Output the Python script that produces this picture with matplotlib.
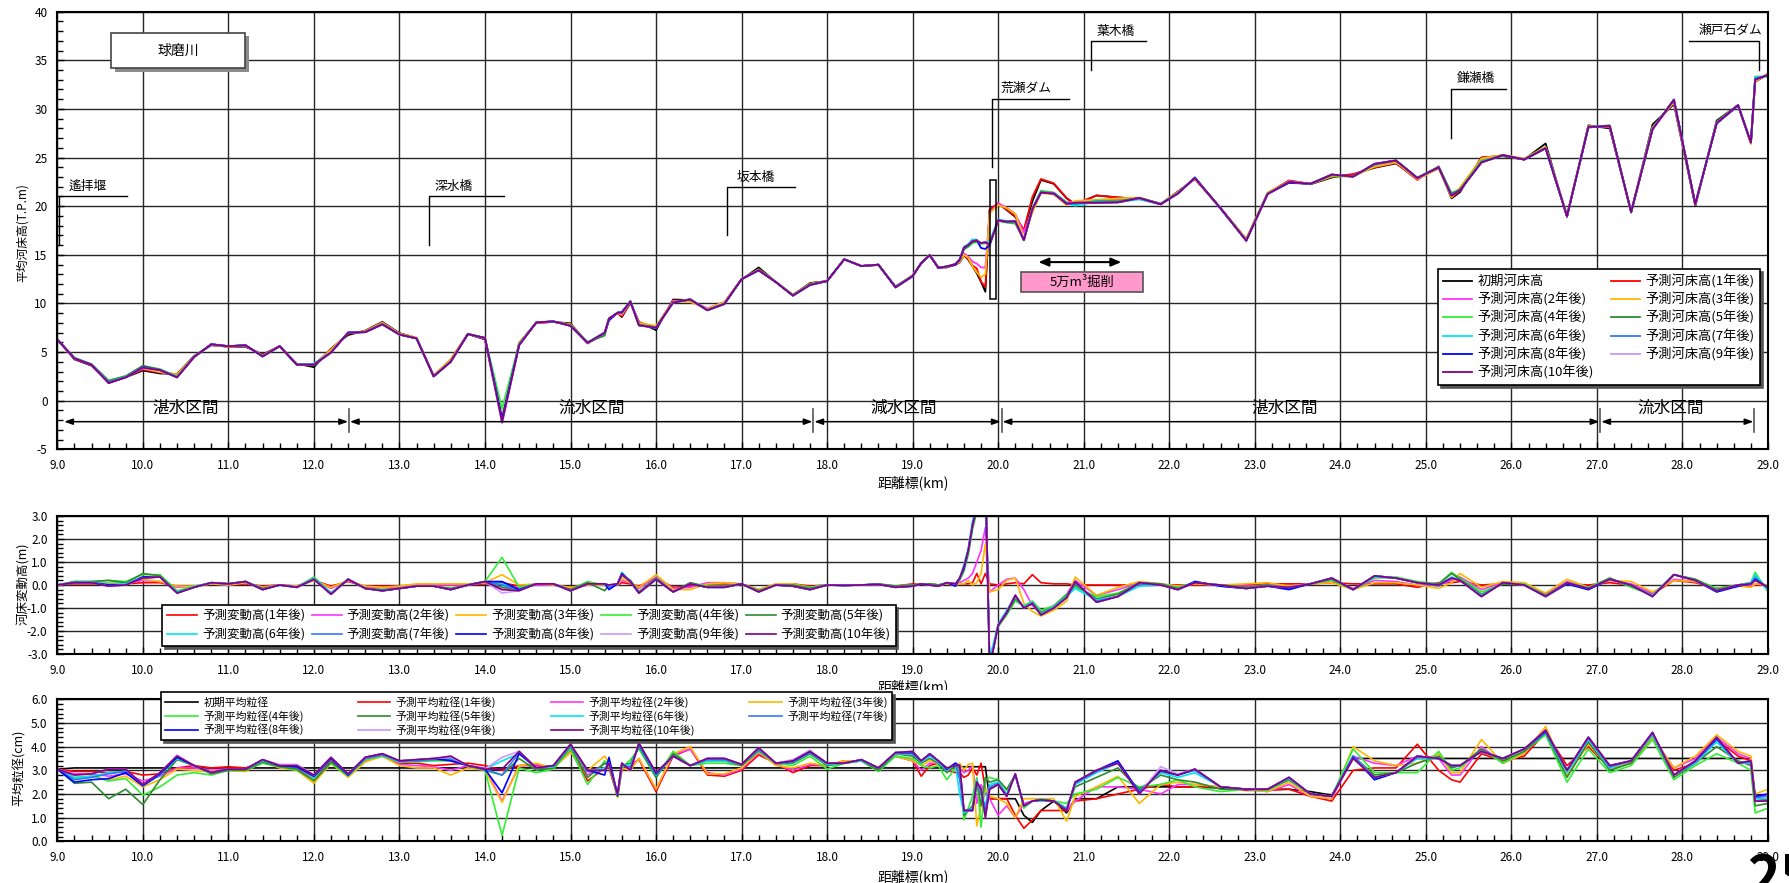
import numpy as np
import matplotlib
matplotlib.use("Agg")
import matplotlib.pyplot as plt
from matplotlib.patches import Rectangle
from matplotlib.ticker import MultipleLocator, FormatStrFormatter
from matplotlib.transforms import Bbox, TransformedBbox

plt.rcParams['font.family'] = ['Noto Sans CJK JP', 'DejaVu Sans']
plt.rcParams['axes.unicode_minus'] = True

# ---------------------------------------------------------------- data
# cross-section positions (km)
km = [9.0, 9.2, 9.4, 9.6, 9.8, 10.0, 10.2, 10.4, 10.6, 10.8, 11.0, 11.2, 11.4, 11.6, 11.8,
      12.0, 12.2, 12.4, 12.6, 12.8, 13.0, 13.2, 13.4, 13.6, 13.8, 14.0, 14.2, 14.4, 14.6, 14.8,
      15.0, 15.2, 15.4, 15.45, 15.55, 15.6, 15.7, 15.8, 16.0, 16.2, 16.4, 16.6, 16.8, 17.0, 17.2,
      17.4, 17.6, 17.8, 18.0, 18.2, 18.4, 18.6, 18.8, 19.0, 19.1, 19.2, 19.3, 19.4, 19.5, 19.55,
      19.6, 19.65, 19.7, 19.75, 19.8, 19.85, 19.9, 20.0, 20.1, 20.2, 20.3, 20.4, 20.5, 20.65, 20.8,
      20.9, 21.15, 21.4, 21.65, 21.9, 22.1, 22.3, 22.6, 22.9, 23.15, 23.4, 23.65, 23.9, 24.15, 24.4,
      24.65, 24.9, 25.15, 25.3, 25.4, 25.65, 25.9, 26.15, 26.4, 26.65, 26.9, 27.15, 27.4, 27.65, 27.9,
      28.15, 28.4, 28.65, 28.8, 28.85, 29.0]

# initial mean bed elevation (T.P.m)
bed_init = [6.3, 4.25, 3.6, 1.85, 2.4, 3.1, 2.8, 2.75, 4.6, 5.7, 5.55, 5.55, 4.75, 5.6, 3.8,
            3.45, 5.35, 6.75, 7.2, 8.1, 6.95, 6.45, 2.55, 4.2, 6.85, 6.3, -2.0, 5.95, 8.0, 8.1,
            7.95, 5.9, 6.95, 8.45, 9.0, 8.6, 10.05, 8.1, 7.25, 10.4, 10.35, 9.4, 10.05, 12.45, 13.7,
            12.2, 10.85, 12.1, 12.3, 14.55, 13.85, 13.95, 11.75, 12.85, 14.1, 14.95, 13.7, 13.7, 14.0, 14.2,
            14.95, 14.5, 13.8, 13.1, 12.2, 11.2, 19.6, 20.3, 19.6, 18.9, 17.5, 20.5, 22.7, 22.3, 20.8,
            20.2, 21.1, 20.9, 20.75, 20.2, 21.5, 22.8, 19.8, 16.6, 21.3, 22.6, 22.25, 22.95, 23.25, 23.95,
            24.4, 22.8, 24.0, 20.8, 21.45, 25.0, 25.15, 24.8, 26.45, 18.9, 28.3, 28.0, 19.4, 28.4, 30.5,
            20.0, 28.8, 30.4, 26.5, 32.8, 33.6]

# predicted bed change (m) after 1..10 years
chg_1y = [0, 0.05, 0.05, 0.05, 0.05, 0.1, 0.1, -0.05, -0.05, 0.05, 0.0, 0.05, -0.05, 0.0, -0.05,
          0.2, -0.05, 0.15, -0.05, -0.05, -0.05, 0.0, 0.0, 0.05, 0.0, 0.05, 0.1, -0.05, 0.0, 0.0,
          -0.1, 0.0, 0.0, 0.0, 0.0, 0.1, 0.05, -0.05, 0.3, -0.1, -0.05, 0.05, 0.05, 0.05, -0.2,
          0.0, 0.05, -0.05, 0.0, 0.0, 0.0, 0.02, -0.05, 0.05, 0.05, 0.05, 0.0, 0.05, 0.0, 0.05,
          0.05, 0.05, 0.1, 0.5, 0.05, 0.5, 0.05, 0.0, 0.05, 0.1, 0.05, 0.45, 0.1, 0.05, 0.05,
          0.0, 0.0, 0.0, 0.0, 0.0, 0.0, 0.0, 0.0, 0.0, 0.05, 0.05, 0.05, 0.1, 0.05, 0.05,
          0.05, -0.1, 0.1, 0.1, 0.15, 0.0, 0.05, 0.0, -0.4, 0.05, 0.0, 0.1, 0.0, -0.4, 0.2,
          0.1, -0.15, 0.0, -0.05, 0.0, 0.0]
chg_2y = [0, 0.08, 0.08, 0.05, 0.05, 0.2, 0.15, -0.1, -0.05, 0.05, 0.0, 0.1, -0.1, 0.0, -0.05,
          0.25, -0.15, 0.2, -0.1, -0.1, -0.1, 0.0, 0.0, 0.0, 0.0, 0.1, -0.2, -0.1, 0.0, 0.0,
          -0.15, 0.0, 0.0, 0.0, 0.0, 0.2, 0.1, -0.15, 0.35, -0.15, -0.1, 0.1, 0.1, 0.05, -0.25,
          0.0, 0.0, -0.1, 0.0, 0.0, 0.0, 0.02, -0.05, 0.0, 0.05, 0.05, 0.0, 0.05, 0.0, 0.1,
          0.2, 0.3, 0.5, 1.0, 1.5, 2.5, -0.3, 0.0, 0.25, 0.3, -0.2, -0.9, -1.2, -0.9, -0.4,
          0.2, -0.45, -0.2, 0.1, 0.05, -0.05, 0.05, 0.0, -0.05, 0.0, -0.05, 0.05, 0.2, -0.15, 0.2,
          0.15, 0.0, 0.0, 0.2, 0.35, -0.2, 0.1, 0.05, -0.4, 0.15, -0.1, 0.2, 0.05, -0.35, 0.25,
          0.15, -0.2, -0.05, 0.0, 0.05, 0.0]
chg_3y = [0, 0.1, 0.1, 0.1, 0.15, 0.25, 0.15, -0.05, -0.05, 0.05, 0.0, 0.1, -0.1, 0.0, -0.05,
          0.2, -0.1, 0.2, -0.05, -0.1, -0.05, 0.05, 0.05, 0.05, 0.05, 0.1, 0.45, 0.0, 0.05, 0.0,
          -0.1, 0.0, 0.0, 0.0, 0.0, 0.3, 0.1, -0.1, 0.45, -0.2, -0.2, 0.05, 0.1, 0.05, -0.2,
          0.05, 0.05, -0.1, 0.0, 0.0, 0.0, 0.03, -0.05, 0.0, 0.05, 0.05, 0.0, 0.05, 0.0, 0.05,
          0.05, 0.2, 0.0, 0.1, 0.5, 1.8, -0.3, -0.2, 0.2, 0.3, -0.8, -1.15, -1.35, -1.1, -0.7,
          0.35, -0.45, -0.1, 0.15, 0.05, -0.05, 0.05, 0.0, 0.05, 0.1, -0.05, 0.05, 0.1, -0.2, 0.1,
          0.1, 0.0, -0.15, 0.1, 0.5, -0.1, 0.15, 0.1, -0.35, 0.25, -0.1, 0.2, 0.15, -0.3, 0.2,
          0.15, -0.2, -0.05, -0.1, 0.05, 0.0]
chg_4y = [0, 0.15, 0.15, 0.2, 0.15, 0.45, 0.45, -0.25, -0.05, 0.1, 0.05, 0.15, -0.15, 0.0, -0.1,
          0.35, -0.35, 0.25, -0.15, -0.2, -0.15, -0.05, -0.05, -0.15, 0.0, 0.15, 1.2, -0.1, 0.05, 0.05,
          -0.2, 0.15, 0.0, 0.0, 0.05, 0.4, 0.2, -0.3, 0.3, -0.3, 0.1, -0.05, -0.05, 0.05, -0.25,
          0.0, 0.0, -0.1, 0.0, 0.0, 0.0, 0.05, -0.05, 0.0, 0.05, 0.05, 0.0, 0.1, 0.05, 0.2,
          0.6, 1.3, 2.4, 3.2, 3.9, 5.0, -3.3, -1.8, -1.3, -0.7, -0.9, -0.7, -1.1, -0.9, -0.4,
          -0.1, -0.5, -0.35, 0.1, 0.05, -0.1, 0.1, 0.0, -0.1, 0.0, -0.15, 0.05, 0.2, -0.2, 0.3,
          0.35, 0.15, 0.05, 0.55, 0.3, -0.3, 0.05, 0.05, -0.45, 0.1, -0.1, 0.3, -0.1, -0.45, 0.45,
          0.25, -0.15, 0.0, 0.1, 0.55, -0.3]
chg_5y = [0, 0.15, 0.15, 0.2, 0.1, 0.5, 0.4, -0.3, -0.1, 0.1, 0.05, 0.15, -0.15, 0.0, -0.1,
          0.3, -0.35, 0.25, -0.15, -0.2, -0.15, -0.05, -0.05, -0.15, 0.0, 0.15, -0.1, -0.2, 0.05, 0.05,
          -0.2, 0.1, -0.25, 0.0, 0.05, 0.45, 0.2, -0.3, 0.3, -0.3, 0.1, -0.1, -0.05, 0.05, -0.25,
          0.0, 0.0, -0.15, 0.0, 0.0, 0.0, 0.05, -0.05, 0.0, 0.05, 0.05, 0.0, 0.1, 0.05, 0.25,
          0.7, 1.4, 2.5, 3.3, 4.0, 5.0, -3.4, -1.8, -1.25, -0.6, -0.95, -0.75, -1.2, -0.95, -0.45,
          0.0, -0.6, -0.4, 0.1, 0.05, -0.15, 0.1, 0.0, -0.1, 0.0, -0.15, 0.05, 0.25, -0.2, 0.35,
          0.3, 0.1, 0.05, 0.5, 0.25, -0.4, 0.05, 0.0, -0.45, 0.1, -0.15, 0.3, -0.05, -0.45, 0.45,
          0.25, -0.2, 0.0, 0.1, 0.4, -0.2]
chg_6y = [0, 0.12, 0.12, 0.05, 0.05, 0.35, 0.35, -0.3, -0.1, 0.1, 0.05, 0.15, -0.2, 0.0, -0.1,
          0.3, -0.35, 0.25, -0.15, -0.25, -0.15, -0.05, -0.05, -0.2, 0.0, 0.15, 0.05, -0.2, 0.05, 0.05,
          -0.25, 0.05, 0.05, 0.0, 0.05, 0.55, 0.15, -0.35, 0.25, -0.3, 0.05, -0.1, -0.1, 0.05, -0.3,
          0.0, -0.05, -0.2, 0.0, -0.02, 0.0, 0.03, -0.1, -0.05, 0.05, 0.0, -0.05, 0.1, 0.05, 0.3,
          0.9, 1.6, 2.8, 3.4, 4.0, 5.1, -3.2, -1.7, -1.1, -0.5, -0.95, -0.75, -1.25, -0.95, -0.5,
          -0.15, -0.65, -0.5, -0.05, 0.0, -0.2, 0.15, -0.05, -0.15, -0.05, -0.1, 0.05, 0.3, -0.2, 0.35,
          0.3, 0.1, 0.0, 0.35, 0.2, -0.45, 0.1, 0.0, -0.5, 0.1, -0.15, 0.25, 0.0, -0.45, 0.45,
          0.2, -0.25, 0.0, 0.1, 0.45, -0.25]
chg_7y = [0, 0.1, 0.1, 0.0, 0.0, 0.3, 0.35, -0.35, -0.1, 0.1, 0.05, 0.15, -0.2, 0.0, -0.1,
          0.25, -0.4, 0.25, -0.15, -0.25, -0.15, -0.05, -0.05, -0.2, 0.0, 0.15, 0.0, -0.2, 0.05, 0.05,
          -0.25, 0.05, 0.05, -0.1, 0.05, 0.5, 0.15, -0.35, 0.25, -0.3, 0.05, -0.1, -0.1, 0.05, -0.3,
          0.0, -0.05, -0.2, 0.0, -0.02, 0.0, 0.03, -0.1, -0.05, 0.05, 0.0, -0.05, 0.1, 0.05, 0.3,
          0.8, 1.5, 2.6, 3.4, 4.0, 5.1, -3.5, -1.75, -1.15, -0.45, -1.0, -0.8, -1.3, -1.0, -0.55,
          0.1, -0.7, -0.5, 0.05, 0.0, -0.2, 0.15, -0.05, -0.15, -0.05, -0.15, 0.05, 0.3, -0.2, 0.4,
          0.3, 0.1, -0.05, 0.3, 0.2, -0.5, 0.1, 0.0, -0.5, 0.05, -0.2, 0.25, 0.0, -0.5, 0.45,
          0.2, -0.3, -0.05, 0.05, 0.3, -0.15]
chg_8y = [0, 0.1, 0.1, 0.0, 0.0, 0.35, 0.35, -0.35, -0.1, 0.1, 0.05, 0.15, -0.2, 0.0, -0.1,
          0.25, -0.4, 0.25, -0.15, -0.25, -0.15, -0.05, -0.05, -0.2, 0.0, 0.15, 0.15, -0.2, 0.05, 0.05,
          -0.25, 0.05, 0.05, -0.2, 0.05, 0.5, 0.15, -0.35, 0.25, -0.3, 0.05, -0.1, -0.1, 0.05, -0.3,
          0.0, -0.05, -0.2, 0.0, -0.02, 0.0, 0.03, -0.1, -0.05, 0.05, 0.0, -0.05, 0.1, -0.05, 0.3,
          0.7, 1.5, 2.6, 3.4, 3.5, 4.4, -3.6, -1.75, -1.2, -0.45, -1.0, -0.8, -1.3, -1.0, -0.55,
          0.15, -0.75, -0.5, 0.1, 0.0, -0.2, 0.15, -0.05, -0.15, -0.05, -0.2, 0.05, 0.3, -0.2, 0.4,
          0.3, 0.1, 0.0, 0.3, 0.2, -0.5, 0.1, 0.0, -0.5, 0.05, -0.2, 0.25, 0.0, -0.5, 0.45,
          0.2, -0.3, -0.05, 0.05, 0.25, -0.1]
chg_9y = [0, 0.1, 0.1, -0.05, 0.0, 0.3, 0.35, -0.35, -0.1, 0.1, 0.05, 0.15, -0.2, 0.0, -0.1,
          0.25, -0.4, 0.25, -0.15, -0.25, -0.15, -0.05, -0.05, -0.2, 0.0, 0.15, -0.35, -0.25, 0.05, 0.05,
          -0.25, 0.05, 0.05, 0.0, 0.05, 0.45, 0.15, -0.35, 0.25, -0.3, 0.05, -0.1, -0.1, 0.05, -0.3,
          0.0, -0.05, -0.2, 0.0, -0.02, 0.0, 0.03, -0.1, -0.05, 0.05, 0.0, -0.05, 0.1, 0.05, 0.3,
          0.8, 1.5, 2.6, 3.35, 4.0, 5.1, -3.6, -1.75, -1.2, -0.45, -1.0, -0.8, -1.3, -1.0, -0.55,
          0.15, -0.75, -0.5, 0.1, 0.0, -0.2, 0.1, 0.0, -0.15, -0.05, -0.1, 0.05, 0.3, -0.2, 0.4,
          0.3, 0.1, 0.0, 0.3, 0.2, -0.5, 0.1, 0.0, -0.5, 0.1, -0.15, 0.25, 0.0, -0.5, 0.45,
          0.2, -0.25, 0.0, 0.05, 0.2, -0.1]
chg_10y = [0, 0.1, 0.1, -0.05, 0.0, 0.3, 0.35, -0.35, -0.1, 0.1, 0.05, 0.15, -0.2, 0.0, -0.1,
           0.25, -0.4, 0.25, -0.15, -0.25, -0.15, -0.05, -0.05, -0.2, 0.0, 0.15, -0.2, -0.25, 0.05, 0.05,
           -0.25, 0.05, 0.05, 0.0, 0.05, 0.45, 0.15, -0.35, 0.25, -0.3, 0.05, -0.1, -0.1, 0.05, -0.3,
           0.0, -0.05, -0.2, 0.0, -0.02, 0.0, 0.03, -0.1, -0.05, 0.05, 0.0, -0.05, 0.1, 0.05, 0.3,
           0.8, 1.5, 2.6, 3.35, 4.0, 5.1, -3.6, -1.75, -1.2, -0.45, -1.0, -0.8, -1.3, -1.0, -0.55,
           0.15, -0.75, -0.5, 0.1, 0.0, -0.2, 0.1, 0.0, -0.15, -0.05, -0.1, 0.05, 0.3, -0.2, 0.4,
           0.3, 0.1, 0.0, 0.3, 0.2, -0.5, 0.1, 0.0, -0.5, 0.1, -0.15, 0.25, 0.0, -0.5, 0.45,
           0.2, -0.25, 0.0, 0.05, 0.2, -0.1]

# mean grain size (cm): initial and after 1..10 years
gs_init = [3.05, 3.1, 3.1, 3.1, 3.1, 3.1, 3.1, 3.1, 3.1, 3.1, 3.1, 3.1, 3.1, 3.1, 3.1,
           3.1, 3.1, 3.1, 3.1, 3.1, 3.1, 3.1, 3.1, 3.1, 3.1, 3.1, 3.1, 3.1, 3.1, 3.1,
           3.1, 3.1, 3.1, 3.1, 3.1, 3.1, 3.1, 3.1, 3.1, 3.1, 3.1, 3.1, 3.1, 3.1, 3.1,
           3.1, 3.1, 3.1, 3.1, 3.1, 3.1, 3.1, 3.1, 3.1, 3.1, 3.1, 3.1, 3.1, 3.1, 3.15,
           3.15, 3.15, 3.15, 3.15, 3.15, 3.15, 1.8, 1.8, 1.8, 1.8, 1.1, 0.8, 1.3, 1.7, 1.2,
           1.8, 1.8, 2.3, 2.3, 2.3, 2.3, 2.3, 2.25, 2.2, 2.2, 2.2, 2.1, 1.95, 3.5, 3.5,
           3.5, 3.5, 3.5, 3.5, 3.5, 3.5, 3.5, 3.5, 3.5, 3.5, 3.5, 3.5, 3.5, 3.5, 3.5,
           3.5, 3.5, 3.5, 3.5, 1.7, 1.7]
gs_1y = [3.05, 2.95, 2.95, 2.9, 2.95, 2.8, 2.85, 3.1, 3.2, 3.1, 3.15, 3.1, 3.35, 3.15, 3.1,
         2.7, 3.4, 2.75, 3.45, 3.65, 3.3, 3.3, 3.2, 3.25, 3.3, 3.2, 3.0, 3.2, 3.2, 3.1,
         3.85, 2.55, 3.1, 3.1, 1.9, 3.0, 3.2, 3.45, 2.1, 3.6, 3.9, 2.8, 2.75, 3.0, 3.65,
         3.3, 2.9, 3.2, 3.2, 3.4, 3.4, 3.1, 3.6, 3.4, 2.75, 3.2, 3.3, 3.0, 2.9, 2.9,
         2.7, 2.8, 3.1, 2.8, 3.3, 2.2, 1.8, 1.8, 1.8, 1.1, 0.55, 0.9, 1.3, 1.3, 1.3,
         1.7, 1.8, 2.0, 2.2, 2.4, 2.3, 2.3, 2.3, 2.15, 2.15, 2.2, 1.9, 1.7, 3.0, 3.1,
         3.1, 4.1, 3.0, 2.6, 2.5, 3.7, 3.4, 3.6, 4.6, 3.2, 4.0, 3.1, 3.3, 4.4, 3.0,
         3.3, 4.3, 3.6, 3.4, 1.7, 1.8]
gs_2y = [3.05, 2.85, 2.85, 2.75, 2.85, 2.55, 2.75, 3.1, 3.1, 3.0, 3.05, 3.0, 3.35, 3.15, 3.05,
         2.6, 3.35, 2.75, 3.4, 3.6, 3.25, 3.2, 3.15, 3.0, 3.2, 3.1, 1.7, 3.2, 3.25, 3.1,
         3.8, 2.8, 3.3, 3.2, 1.9, 3.05, 3.1, 3.5, 2.2, 3.65, 3.9, 2.9, 2.8, 3.05, 3.75,
         3.25, 3.0, 3.25, 3.2, 3.4, 3.4, 3.1, 3.6, 3.4, 3.0, 3.3, 3.3, 3.0, 3.0, 3.1,
         2.9, 3.0, 3.2, 1.6, 2.4, 2.0, 1.8, 1.1, 1.5, 1.0, 1.6, 1.7, 1.7, 1.7, 1.3,
         1.7, 2.3, 2.3, 2.2, 2.0, 2.4, 2.4, 2.3, 2.2, 2.1, 2.4, 1.9, 1.8, 3.6, 3.3,
         3.2, 3.6, 3.5, 2.8, 2.8, 4.0, 3.3, 3.7, 4.7, 3.0, 4.1, 3.1, 3.3, 4.4, 3.1,
         3.5, 4.4, 3.7, 3.5, 1.8, 2.0]
gs_3y = [3.05, 2.7, 2.75, 2.6, 2.75, 2.3, 2.6, 3.05, 3.0, 2.95, 3.0, 2.95, 3.35, 3.1, 3.0,
         2.45, 3.3, 2.7, 3.35, 3.6, 3.2, 3.1, 3.1, 2.8, 3.1, 3.0, 1.65, 3.2, 3.3, 3.1,
         3.75, 3.0, 3.6, 3.3, 1.85, 3.1, 3.0, 3.5, 2.2, 3.7, 4.0, 2.85, 2.85, 3.1, 3.8,
         3.2, 3.1, 3.3, 3.2, 3.4, 3.4, 3.1, 3.6, 3.4, 3.2, 3.4, 3.3, 3.1, 3.0, 3.3,
         3.0, 3.25, 3.3, 0.65, 1.5, 2.2, 1.9, 1.8, 1.6, 1.0, 1.8, 1.8, 1.8, 1.8, 0.85,
         1.9, 2.3, 2.75, 1.6, 2.4, 2.5, 2.4, 2.3, 2.2, 2.1, 2.5, 1.9, 1.8, 4.0, 3.4,
         3.2, 3.3, 3.7, 2.9, 2.9, 4.3, 3.3, 3.7, 4.85, 2.8, 4.1, 3.1, 3.3, 4.4, 3.1,
         3.6, 4.5, 3.8, 3.6, 2.0, 2.2]
gs_4y = [3.05, 2.65, 2.75, 2.55, 2.65, 1.95, 2.3, 2.8, 2.9, 2.8, 3.0, 3.0, 3.3, 3.15, 3.0,
         2.6, 3.3, 2.75, 3.45, 3.6, 3.35, 3.35, 3.4, 3.4, 3.2, 3.0, 0.25, 3.1, 2.9, 3.05,
         3.9, 2.4, 3.4, 3.2, 1.9, 3.1, 3.45, 3.9, 2.7, 3.8, 3.2, 3.3, 3.3, 3.2, 3.8,
         3.3, 3.2, 3.6, 3.05, 3.3, 3.4, 2.95, 3.6, 3.5, 3.2, 3.1, 3.2, 2.6, 3.1, 3.0,
         0.9, 1.4, 1.9, 2.7, 0.6, 2.6, 2.7, 2.6, 2.15, 2.8, 1.4, 1.7, 1.8, 1.7, 1.6,
         2.0, 2.2, 2.7, 2.3, 2.4, 2.6, 2.3, 2.1, 2.2, 2.15, 2.6, 2.0, 1.9, 3.9, 2.9,
         2.9, 2.9, 3.8, 3.0, 3.1, 3.9, 3.3, 3.8, 4.5, 2.5, 3.9, 2.9, 3.2, 4.3, 2.6,
         3.2, 3.7, 3.3, 3.0, 1.2, 1.4]
gs_5y = [3.05, 2.45, 2.5, 1.8, 2.2, 1.55, 2.6, 3.45, 3.2, 2.85, 3.0, 3.0, 3.35, 3.15, 3.05,
         2.55, 3.35, 2.8, 3.5, 3.65, 3.35, 3.4, 3.45, 3.45, 3.2, 3.0, 2.8, 3.5, 3.0, 3.1,
         4.0, 2.7, 3.3, 3.25, 1.9, 3.2, 3.3, 4.0, 2.7, 3.7, 3.2, 3.4, 3.4, 3.2, 3.85,
         3.3, 3.3, 3.7, 3.2, 3.3, 3.4, 3.0, 3.7, 3.6, 3.3, 3.5, 3.3, 2.9, 3.2, 3.1,
         1.1, 1.3, 1.5, 2.6, 1.5, 2.7, 2.5, 2.6, 2.2, 2.8, 1.5, 1.7, 1.75, 1.7, 1.4,
         2.3, 2.7, 3.1, 2.2, 2.8, 2.6, 2.5, 2.2, 2.2, 2.2, 2.6, 2.0, 1.9, 3.6, 2.8,
         2.9, 3.3, 3.6, 3.1, 3.2, 3.9, 3.4, 3.8, 4.6, 2.7, 4.2, 3.0, 3.3, 4.5, 2.7,
         3.3, 4.0, 3.4, 3.2, 1.5, 1.6]
gs_6y = [3.05, 2.7, 2.75, 2.9, 2.95, 2.35, 2.8, 3.5, 3.2, 2.9, 3.05, 3.05, 3.4, 3.2, 3.15,
         2.7, 3.5, 2.8, 3.5, 3.65, 3.35, 3.4, 3.45, 3.5, 3.2, 3.05, 3.4, 3.7, 3.1, 3.15,
         4.05, 2.95, 3.1, 3.3, 1.95, 3.25, 3.2, 4.05, 2.8, 3.6, 3.2, 3.4, 3.4, 3.25, 3.9,
         3.3, 3.35, 3.75, 3.25, 3.3, 3.4, 3.1, 3.7, 3.7, 3.35, 3.6, 3.35, 3.0, 3.25, 2.0,
         1.2, 1.3, 1.4, 2.6, 2.0, 1.5, 2.4, 2.5, 2.0, 2.8, 1.5, 1.7, 1.7, 1.7, 1.4,
         2.4, 2.9, 3.3, 2.1, 2.9, 2.7, 2.9, 2.3, 2.2, 2.2, 2.65, 2.0, 1.9, 3.6, 2.7,
         2.9, 3.5, 3.5, 3.2, 3.2, 3.8, 3.5, 3.9, 4.6, 2.9, 4.3, 3.1, 3.4, 4.5, 2.8,
         3.3, 4.2, 3.3, 3.3, 1.8, 1.8]
gs_7y = [3.05, 2.6, 2.7, 2.85, 2.95, 2.35, 2.8, 3.55, 3.2, 2.9, 3.05, 3.05, 3.45, 3.2, 3.15,
         2.75, 3.5, 2.8, 3.5, 3.65, 3.4, 3.4, 3.45, 3.5, 3.2, 3.05, 2.8, 3.75, 3.1, 3.2,
         4.05, 2.95, 3.0, 3.4, 1.95, 3.25, 3.1, 4.1, 2.85, 3.6, 3.2, 3.45, 3.45, 3.25, 3.9,
         3.3, 3.35, 3.75, 3.3, 3.3, 3.45, 3.1, 3.75, 3.7, 3.4, 3.65, 3.4, 3.05, 3.3, 2.6,
         1.3, 1.35, 1.3, 2.5, 2.1, 1.3, 2.3, 2.45, 1.95, 2.8, 1.5, 1.7, 1.75, 1.7, 1.35,
         2.45, 2.95, 3.35, 2.1, 2.95, 2.8, 3.0, 2.3, 2.2, 2.2, 2.7, 2.0, 1.9, 3.6, 2.65,
         2.9, 3.55, 3.5, 3.2, 3.2, 3.8, 3.5, 3.9, 4.6, 3.0, 4.35, 3.15, 3.4, 4.55, 2.8,
         3.35, 4.3, 3.3, 3.35, 1.85, 1.9]
gs_8y = [3.05, 2.5, 2.6, 2.65, 2.9, 2.35, 2.85, 3.55, 3.2, 2.9, 3.05, 3.05, 3.45, 3.2, 3.15,
         2.75, 3.5, 2.8, 3.55, 3.7, 3.4, 3.45, 3.5, 3.4, 3.2, 3.05, 2.05, 3.7, 3.1, 3.2,
         4.1, 3.0, 2.8, 3.55, 1.95, 3.3, 3.0, 4.1, 2.85, 3.6, 3.2, 3.5, 3.5, 3.25, 3.95,
         3.3, 3.4, 3.8, 3.3, 3.3, 3.45, 3.1, 3.75, 3.75, 3.4, 3.7, 3.4, 3.05, 3.3, 3.2,
         1.3, 1.3, 1.3, 2.5, 2.2, 1.1, 2.2, 2.4, 1.9, 2.85, 1.5, 1.7, 1.75, 1.7, 1.3,
         2.5, 3.0, 3.4, 2.05, 3.0, 2.8, 3.05, 2.3, 2.2, 2.2, 2.7, 2.0, 1.9, 3.55, 2.6,
         2.9, 3.6, 3.5, 3.2, 3.2, 3.8, 3.5, 3.9, 4.65, 3.0, 4.4, 3.2, 3.4, 4.6, 2.8,
         3.4, 4.35, 3.3, 3.4, 1.9, 2.0]
gs_9y = [3.05, 2.8, 2.85, 3.05, 3.05, 2.4, 2.9, 3.65, 3.2, 2.9, 3.05, 3.05, 3.45, 3.25, 3.25,
         2.8, 3.55, 2.85, 3.55, 3.7, 3.4, 3.45, 3.5, 3.55, 3.2, 3.05, 3.55, 3.8, 3.1, 3.2,
         4.1, 3.0, 3.0, 3.3, 2.0, 3.3, 3.0, 4.15, 2.9, 3.6, 3.2, 3.5, 3.5, 3.25, 3.95,
         3.3, 3.45, 3.85, 3.3, 3.3, 3.45, 3.1, 3.75, 3.8, 3.4, 3.7, 3.4, 3.1, 3.2, 3.2,
         1.3, 1.3, 1.3, 2.5, 2.2, 1.0, 2.2, 2.4, 1.9, 2.85, 1.5, 1.7, 1.75, 1.7, 1.3,
         2.5, 3.0, 3.3, 2.0, 3.15, 2.85, 3.05, 2.3, 2.2, 2.2, 2.7, 2.0, 1.9, 3.5, 2.7,
         2.9, 3.6, 3.5, 3.2, 3.2, 3.8, 3.5, 3.9, 4.7, 3.0, 4.4, 3.2, 3.4, 4.6, 2.8,
         3.4, 4.4, 3.3, 3.4, 1.7, 1.7]
gs_10y = [3.05, 2.8, 2.85, 3.05, 3.05, 2.4, 2.9, 3.6, 3.2, 2.9, 3.05, 3.05, 3.45, 3.2, 3.2,
          2.8, 3.55, 2.85, 3.55, 3.7, 3.4, 3.45, 3.5, 3.6, 3.2, 3.05, 3.05, 3.8, 3.1, 3.2,
          4.1, 3.0, 3.0, 3.3, 2.0, 3.3, 3.0, 4.15, 2.9, 3.6, 3.2, 3.5, 3.5, 3.25, 3.95,
          3.3, 3.4, 3.8, 3.3, 3.3, 3.45, 3.1, 3.75, 3.8, 3.4, 3.7, 3.4, 3.1, 3.2, 3.2,
          1.3, 1.3, 1.3, 2.5, 2.2, 1.0, 2.2, 2.4, 1.9, 2.85, 1.5, 1.7, 1.75, 1.7, 1.3,
          2.5, 3.0, 3.3, 2.0, 3.0, 2.8, 3.05, 2.3, 2.2, 2.2, 2.7, 2.0, 1.9, 3.5, 2.7,
          2.9, 3.6, 3.5, 3.2, 3.2, 3.8, 3.5, 3.9, 4.7, 3.0, 4.4, 3.2, 3.4, 4.6, 2.8,
          3.4, 4.4, 3.3, 3.4, 1.7, 1.7]

years = ['1', '2', '3', '4', '5', '6', '7', '8', '9', '10']
year_colors = ['#FF0000', '#FF33FF', '#FFB700', '#33EE33', '#2E8B2E',
               '#00E5EE', '#3377FF', '#0000FF', '#CC99FF', '#800080']
changes = [chg_1y, chg_2y, chg_3y, chg_4y, chg_5y, chg_6y, chg_7y, chg_8y, chg_9y, chg_10y]
grains = [gs_1y, gs_2y, gs_3y, gs_4y, gs_5y, gs_6y, gs_7y, gs_8y, gs_9y, gs_10y]

# landmarks along the river: (label, text x, text y, bracket path)
landmarks = [
    ('遙拝堰', 9.35, 22.0, [(9.02, 16.0), (9.02, 21.0), (9.81, 21.0)]),
    ('深水橋', 13.63, 22.0, [(13.34, 16.0), (13.34, 21.0), (14.22, 21.0)]),
    ('坂本橋', 17.16, 22.9, [(16.83, 17.0), (16.83, 22.0), (17.63, 22.0)]),
    ('荒瀬ダム', 20.33, 32.1, [(19.93, 24.0), (19.93, 31.0), (20.83, 31.0)]),
    ('葉木橋', 21.37, 38.0, [(21.09, 34.0), (21.09, 37.0), (21.73, 37.0)]),
    ('鎌瀬橋', 25.59, 33.1, [(25.29, 27.0), (25.29, 32.0), (25.94, 32.0)]),
    ('瀬戸石ダム', 28.56, 38.1, [(28.08, 37.0), (28.90, 37.0), (28.90, 34.0)]),
]

# river reaches: (label, label x, start km, end km)
reaches = [('湛水区間', 10.5, 9.07, 12.41), ('流水区間', 15.25, 12.41, 17.84),
           ('減水区間', 18.9, 17.84, 20.04), ('湛水区間', 23.35, 20.04, 27.04),
           ('流水区間', 27.86, 27.04, 28.84)]

# ---------------------------------------------------------------- figure
W, H = 1790, 883
fig = plt.figure(figsize=(W / 100, H / 100), dpi=100)


def px_box(l, t, r, b):
    return [l / W, 1 - b / H, (r - l) / W, (b - t) / H]


ax1 = fig.add_axes(px_box(57.3, 11.7, 1768, 449.3))
ax2 = fig.add_axes(px_box(57.3, 516, 1768, 654))
ax3 = fig.add_axes(px_box(57.3, 699.3, 1768, 841.3))


def style(ax, lo, hi, major, minor, fmt, xpad):
    ax.set_xlim(9, 29)
    ax.set_ylim(lo, hi)
    ax.xaxis.set_major_locator(MultipleLocator(1))
    ax.xaxis.set_minor_locator(MultipleLocator(0.2))
    ax.xaxis.set_major_formatter(FormatStrFormatter('%.1f'))
    ax.yaxis.set_major_locator(MultipleLocator(major))
    ax.yaxis.set_minor_locator(MultipleLocator(minor))
    ax.yaxis.set_major_formatter(FormatStrFormatter(fmt))
    ax.grid(True, which='major', color='#262626', lw=1.0)
    ax.set_axisbelow(True)
    ax.tick_params(which='both', direction='in', top=False, right=False, labelsize=8.5)
    ax.tick_params(which='major', length=5, width=1)
    ax.tick_params(which='minor', length=4, width=1)
    ax.tick_params(axis='x', which='major', pad=7)
    ax.tick_params(axis='y', which='major', pad=7)
    for s in ax.spines.values():
        s.set_linewidth(1.5)
        s.set_color('black')


style(ax1, -5, 40, 5, 1, '%d', 7)
style(ax2, -3, 3, 1, 0.2, '%.1f', 7)
style(ax3, 0, 6, 1, 0.2, '%.1f', 5)

x = np.array(km)
z0 = np.array(bed_init)

# ---- top: mean bed elevation
h_top = [ax1.plot(x, z0, color='black', lw=1.3, label='初期河床高')[0]]
for yr, col, dz in zip(years, year_colors, changes):
    h_top.append(ax1.plot(x, z0 + np.array(dz), color=col, lw=1.3,
                          label=f'予測河床高({yr}年後)')[0])

for name, tx, ty, path in landmarks:
    px, py = zip(*path)
    ax1.plot(px, py, color='black', lw=1.0)
    ax1.text(tx, ty, name, ha='center', va='center', fontsize=9.2)

for name, lx, x0, x1 in reaches:
    ax1.annotate('', xy=(x1 - 0.01, -2.16), xytext=(x0 + 0.01, -2.16),
                 arrowprops=dict(arrowstyle='<|-|>,head_length=0.5,head_width=0.18',
                                 color='black', lw=1.1, shrinkA=0, shrinkB=0))
    ax1.text(lx, -0.8, name, ha='center', va='center', fontsize=12)
for sx in [12.41, 17.84, 20.04, 27.04, 28.84]:
    ax1.plot([sx, sx], [-0.9, -3.2], color='#555555', lw=1.2)

# river name box with shadow
ax1.add_patch(Rectangle((9.68, 33.85), 1.56, 3.6, fc='#8c8c8c', ec='none', zorder=4))
ax1.add_patch(Rectangle((9.63, 34.2), 1.56, 3.6, fc='white', ec='#444444', lw=1.2, zorder=5))
ax1.text(10.41, 36.0, '球磨川', ha='center', va='center', fontsize=10, zorder=6)

# Arase dam body
ax1.add_patch(Rectangle((19.90, 10.45), 0.08, 12.25, fill=False, ec='black', lw=1.1, zorder=6))

# dredging reach
ax1.annotate('', xy=(21.44, 14.25), xytext=(20.47, 14.25),
             arrowprops=dict(arrowstyle='<|-|>,head_length=0.6,head_width=0.25',
                             color='black', lw=1.5, shrinkA=0, shrinkB=0))
ax1.add_patch(Rectangle((20.27, 11.2), 1.42, 2.0, fc='#FF99CC', ec='#555555', lw=1.2, zorder=5))
ax1.text(20.98, 12.15, '5万m³掘削', ha='center', va='center', fontsize=9.5, zorder=6)

order_top = [0, 2, 4, 6, 8, 10, 1, 3, 5, 7, 9]
ax1.legend([h_top[i] for i in order_top], [h_top[i].get_label() for i in order_top],
           ncol=2, mode='expand', loc='center',
           bbox_to_anchor=(0.807, 0.1424, 0.1883, 0.2742), borderaxespad=0,
           fontsize=9.5, handlelength=2.2, handletextpad=0.4, labelspacing=0.32,
           frameon=True, fancybox=False, edgecolor='black', framealpha=1,
           shadow={'color': '#555555', 'alpha': 1})
ax1.get_legend().get_frame().set_linewidth(1.2)

# ---- middle: bed change
h_mid = []
for yr, col, dz in zip(years, year_colors, changes):
    h_mid.append(ax2.plot(x, dz, color=col, lw=1.2, label=f'予測変動高({yr}年後)')[0])
order_mid = [0, 5, 1, 6, 2, 7, 3, 8, 4, 9]
ax2.legend([h_mid[i] for i in order_mid], [h_mid[i].get_label() for i in order_mid],
           ncol=5, mode='expand', loc='center',
           bbox_to_anchor=(0.0612, 0.05, 0.4288, 0.312), borderaxespad=0,
           fontsize=9, handlelength=2.4, handletextpad=0.4, labelspacing=0.45,
           columnspacing=0.8, frameon=True, fancybox=False, edgecolor='black', framealpha=1,
           shadow={'color': '#555555', 'alpha': 1})
ax2.get_legend().get_frame().set_linewidth(1.2)

# ---- bottom: mean grain size
h_bot = [ax3.plot(x, gs_init, color='black', lw=1.2, label='初期平均粒径')[0]]
for yr, col, gs in zip(years, year_colors, grains):
    h_bot.append(ax3.plot(x, gs, color=col, lw=1.2, label=f'予測平均粒径({yr}年後)')[0])
order_bot = [0, 4, 8, 1, 5, 9, 2, 6, 10, 3, 7]
ax3.legend([h_bot[i] for i in order_bot], [h_bot[i].get_label() for i in order_bot],
           ncol=4, mode='expand', loc='center',
           bbox_to_anchor=(0.0606, 0.713, 0.4274, 0.338), borderaxespad=0,
           fontsize=7.8, handlelength=3.0, handletextpad=0.5, labelspacing=0.18,
           columnspacing=1.0, frameon=True, fancybox=False, edgecolor='black', framealpha=1,
           shadow={'color': '#555555', 'alpha': 1})
ax3.get_legend().get_frame().set_linewidth(1.2)

# ---- axis titles
fig.text(22 / W, 1 - 233 / H, '平均河床高(T.P.m)', rotation=90, ha='center', va='center', fontsize=8.5)
fig.text(24 / W, 1 - 584 / H, '河床変動高(m)', rotation=90, ha='center', va='center', fontsize=9)
fig.text(19 / W, 1 - 768 / H, '平均粒径(cm)', rotation=90, ha='center', va='center', fontsize=9)

fig.text(913 / W, 1 - 483 / H, '距離標(km)', ha='center', va='center', fontsize=10)
t_mid = fig.text(913 / W, 1 - 687 / H, '距離標(km)', ha='center', va='center', fontsize=10)
t_mid.set_clip_box(TransformedBbox(Bbox([[0, 1 - 690 / H], [1, 1]]), fig.transFigure))
t_mid.set_clip_on(True)
fig.text(913 / W, 1 - 877 / H, '距離標(km)', ha='center', va='center', fontsize=10)

# page number
fig.text(1747 / W, 1 - 895 / H, '25', ha='left', va='baseline', fontsize=40,
         fontweight='bold', family=['Noto Sans CJK JP'])

fig.savefig('out.png', dpi=100, facecolor='white')
